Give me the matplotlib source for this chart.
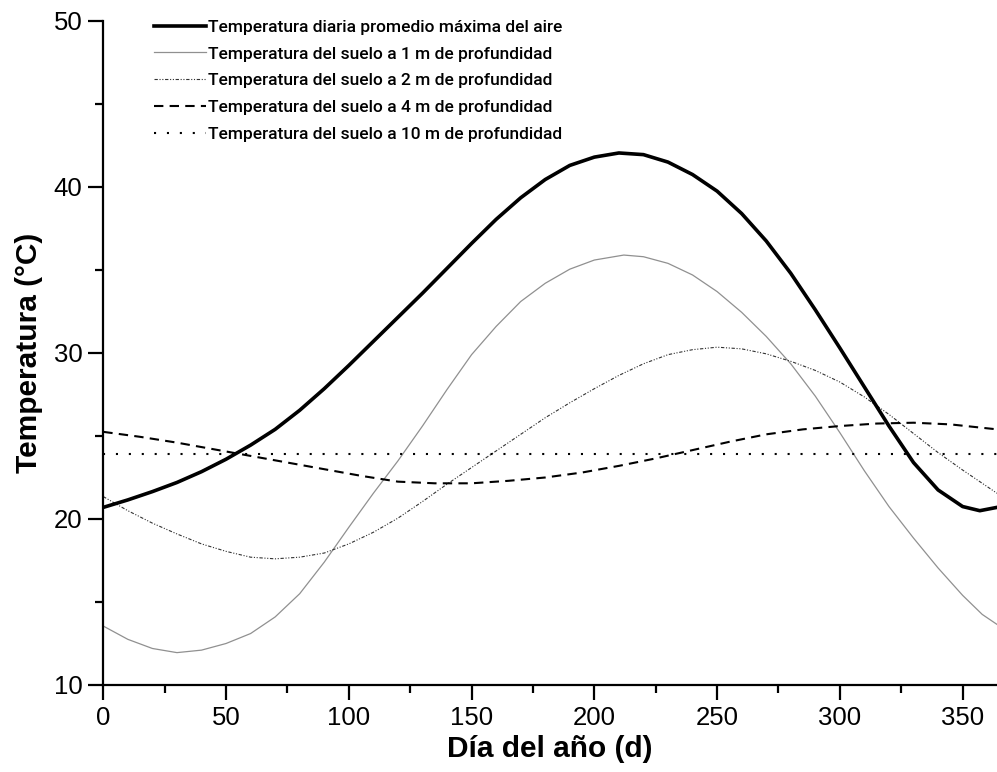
import matplotlib
matplotlib.use("Agg")
import matplotlib.pyplot as plt
from matplotlib.ticker import MultipleLocator

# ---- data ----
air_days = [0, 10, 20, 30, 40, 50, 60, 70, 80, 90, 100, 110, 120, 130, 140, 150, 160, 170,
            180, 190, 200, 210, 220, 230, 240, 250, 260, 270, 280, 290, 300, 310, 320, 330,
            340, 350, 357, 364]
air_temp = [20.70, 21.15, 21.65, 22.2, 22.85, 23.6, 24.45, 25.4, 26.55, 27.85, 29.25, 30.7,
            32.15, 33.6, 35.1, 36.6, 38.05, 39.35, 40.45, 41.3, 41.8, 42.05, 41.95, 41.5,
            40.75, 39.75, 38.4, 36.75, 34.8, 32.6, 30.3, 27.95, 25.6, 23.4, 21.75, 20.75,
            20.5, 20.7]

m1_days = [0, 10, 20, 30, 40, 50, 60, 70, 80, 90, 100, 110, 120, 130, 140, 150, 160, 170,
           180, 190, 200, 212, 220, 230, 240, 250, 260, 270, 280, 290, 300, 310, 320, 330,
           340, 350, 358, 364]
m1_temp = [13.55, 12.75, 12.2, 11.95, 12.1, 12.5, 13.1, 14.1, 15.5, 17.4, 19.5, 21.55,
           23.5, 25.6, 27.8, 29.9, 31.6, 33.1, 34.2, 35.05, 35.6, 35.9, 35.8, 35.4, 34.7,
           33.7, 32.45, 31.0, 29.35, 27.4, 25.2, 22.9, 20.75, 18.85, 17.05, 15.4, 14.25, 13.65]

m2_days = [0, 10, 20, 30, 40, 50, 60, 70, 80, 90, 100, 110, 120, 130, 140, 150, 160, 170,
           180, 190, 200, 210, 220, 230, 240, 250, 260, 270, 280, 290, 300, 310, 320, 330,
           340, 350, 364]
m2_temp = [21.35, 20.5, 19.75, 19.1, 18.5, 18.05, 17.7, 17.6, 17.7, 17.95, 18.5, 19.2,
           20.05, 21.05, 22.1, 23.1, 24.1, 25.1, 26.1, 27.0, 27.85, 28.65, 29.35, 29.9, 30.2,
           30.35, 30.25, 29.95, 29.5, 28.95, 28.25, 27.35, 26.3, 25.15, 24.0, 22.95, 21.55]

m4_days = [0, 15, 30, 45, 60, 75, 90, 105, 120, 135, 150, 165, 180, 195, 210, 225, 240,
           255, 270, 285, 300, 315, 330, 345, 364]
m4_temp = [25.25, 24.95, 24.6, 24.2, 23.8, 23.4, 23.0, 22.6, 22.25, 22.15, 22.15, 22.3,
           22.5, 22.8, 23.2, 23.65, 24.15, 24.65, 25.1, 25.4, 25.6, 25.75, 25.8, 25.7, 25.4]

m10_days = [0, 364]
m10_temp = [23.9, 23.9]

labels = [
    "Temperatura diaria promedio máxima del aire",
    "Temperatura del suelo a 1 m de profundidad",
    "Temperatura del suelo a 2 m de profundidad",
    "Temperatura del suelo a 4 m de profundidad",
    "Temperatura del suelo a 10 m de profundidad",
]

x_ticks = [0, 50, 100, 150, 200, 250, 300, 350]
y_ticks = [10, 20, 30, 40, 50]

# ---- figure ----
fig = plt.figure(figsize=(9.97, 7.72), dpi=100)
ax = fig.add_axes([0.1036, 0.1127, 0.8964, 0.8601])

ax.plot(air_days, air_temp, color="black", lw=2.6, label=labels[0], zorder=5,
        solid_joinstyle="round")
ax.plot(m1_days, m1_temp, color="#909090", lw=0.9, label=labels[1])
ax.plot(m2_days, m2_temp, color="#333333", lw=0.8,
        linestyle=(0, (3, 1.5, 1, 1.5, 1, 1.5)), label=labels[2])
ax.plot(m4_days, m4_temp, color="black", lw=1.5, linestyle=(0, (4.5, 3)), label=labels[3])
ax.plot(m10_days, m10_temp, color="black", lw=1.5, linestyle=(0, (1, 5.2)), label=labels[4])

ax.set_xlim(0, 364)
ax.set_ylim(10, 50)
ax.set_xticks(x_ticks)
ax.set_yticks(y_ticks)
ax.xaxis.set_minor_locator(MultipleLocator(25))
ax.yaxis.set_minor_locator(MultipleLocator(5))

for s in ["top", "right"]:
    ax.spines[s].set_visible(False)
for s in ["left", "bottom"]:
    ax.spines[s].set_linewidth(1.6)

ax.tick_params(which="major", direction="out", length=11, width=1.6,
               labelsize=18.5, pad=4)
ax.tick_params(which="minor", direction="out", length=6, width=1.6)
for lab in ax.get_xticklabels() + ax.get_yticklabels():
    lab.set_fontfamily("Liberation Sans")

ax.set_xlabel("Día del año (d)", fontsize=21.5, fontweight="bold",
              fontfamily="Liberation Sans", labelpad=4)
ax.set_ylabel("Temperatura (°C)", fontsize=21.5, fontweight="bold",
              fontfamily="Liberation Sans", labelpad=8)

leg = ax.legend(loc="upper left", bbox_to_anchor=(0.151, 0.979), bbox_transform=fig.transFigure,
                frameon=False, handlelength=3.0, handletextpad=0.1,
                labelspacing=0.665, borderaxespad=0.0, borderpad=0.2,
                prop={"family": "Roboto", "size": 12.5, "weight": "medium"})

fig.savefig("out.png", dpi=100)
